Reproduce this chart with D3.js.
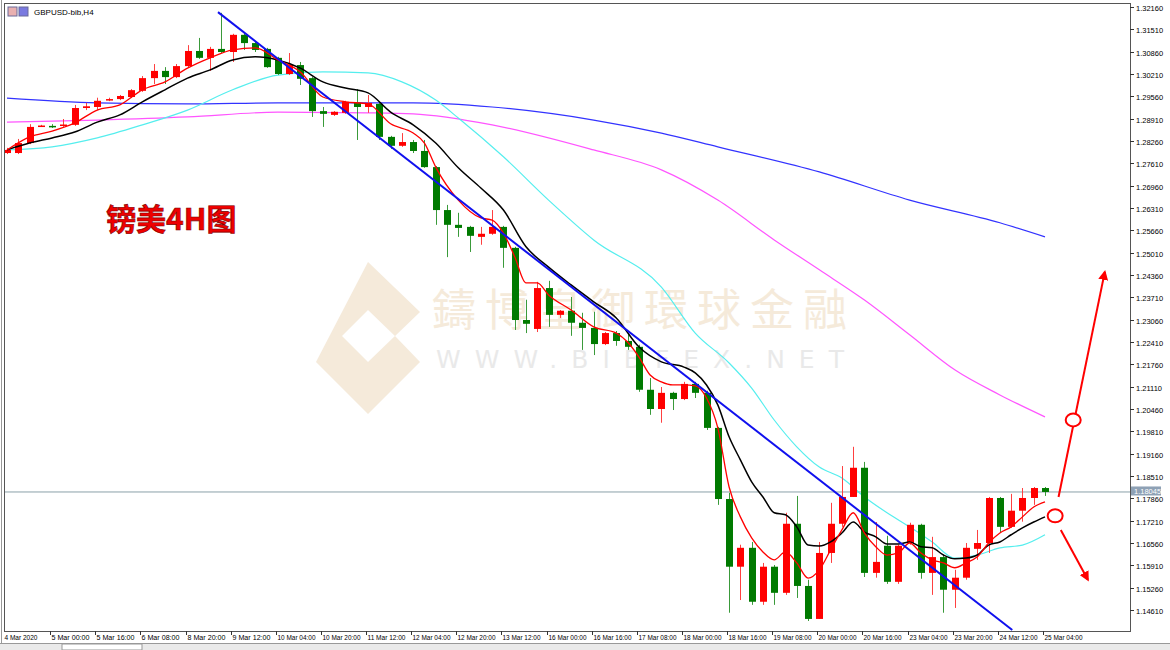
<!DOCTYPE html>
<html><head><meta charset="utf-8">
<script src="https://cdn.jsdelivr.net/npm/d3@7"></script>
<style>body{margin:0;background:#fff}svg{display:block}</style>
</head><body>
<svg id="c" width="1170" height="650"></svg>
<script>
// ---------- data ----------
const opens  = [1.2791,1.2791,1.2820,1.2868,1.2870,1.2871,1.2873,1.2922,1.2925,1.2945,1.2948,1.2954,1.2972,1.3009,1.3030,1.3012,1.3044,1.3088,1.3068,1.3094,1.3085,1.3135,1.3111,1.3094,1.3068,1.3021,1.3047,1.3009,1.2913,1.2902,1.2908,1.2937,1.2925,1.2934,1.2838,1.2812,1.2823,1.2797,1.2750,1.2625,1.2582,1.2576,1.2547,1.2556,1.2576,1.2515,1.2305,1.2279,1.2398,1.2320,1.2332,1.2297,1.2282,1.2235,1.2267,1.2244,1.2227,1.2102,1.2046,1.2093,1.2075,1.2119,1.2093,1.1991,1.1784,1.1587,1.1642,1.1485,1.1587,1.1511,1.1712,1.1531,1.1435,1.1627,1.1712,1.1790,1.1875,1.1569,1.1648,1.1543,1.1656,1.1709,1.1569,1.1615,1.1520,1.1555,1.1639,1.1656,1.1787,1.1703,1.1750,1.1787,1.1816];
const highs  = [1.2806,1.2832,1.2875,1.2873,1.2875,1.2890,1.2931,1.2937,1.2952,1.2952,1.2960,1.2977,1.3015,1.3050,1.3041,1.3050,1.3105,1.3126,1.3100,1.3199,1.3138,1.3143,1.3117,1.3097,1.3071,1.3082,1.3056,1.3012,1.2925,1.2913,1.2943,1.2977,1.2960,1.2937,1.2841,1.2849,1.2829,1.2829,1.2753,1.2640,1.2617,1.2579,1.2576,1.2625,1.2579,1.2518,1.2364,1.2416,1.2419,1.2334,1.2372,1.2326,1.2329,1.2270,1.2273,1.2264,1.2233,1.2136,1.2110,1.2096,1.2125,1.2125,1.2099,1.1994,1.1802,1.1651,1.1659,1.1598,1.1592,1.1744,1.1793,1.1549,1.1659,1.1773,1.1880,1.1936,1.1892,1.1717,1.1677,1.1651,1.1715,1.1712,1.1674,1.1621,1.1578,1.1656,1.1694,1.1790,1.1790,1.1799,1.1816,1.1819,1.1819];
const lows   = [1.2788,1.2788,1.2817,1.2867,1.2864,1.2867,1.2870,1.2916,1.2916,1.2942,1.2945,1.2951,1.2969,1.2992,1.2992,1.3009,1.3041,1.3065,1.3030,1.3082,1.3056,1.3091,1.3085,1.3039,1.3018,1.3018,1.2989,1.2896,1.2867,1.2899,1.2905,1.2829,1.2908,1.2829,1.2803,1.2809,1.2791,1.2748,1.2582,1.2488,1.2547,1.2503,1.2524,1.2553,1.2457,1.2276,1.2267,1.2270,1.2285,1.2311,1.2259,1.2218,1.2203,1.2232,1.2230,1.2218,1.2096,1.2029,1.2006,1.2043,1.2072,1.2078,1.1985,1.1767,1.1453,1.1490,1.1476,1.1476,1.1476,1.1505,1.1496,1.1429,1.1435,1.1598,1.1703,1.1790,1.1557,1.1555,1.1537,1.1537,1.1651,1.1552,1.1505,1.1453,1.1467,1.1549,1.1607,1.1627,1.1688,1.1700,1.1718,1.1767,1.1793];
const closes = [1.2800,1.2820,1.2867,1.2871,1.2867,1.2874,1.2922,1.2927,1.2943,1.2948,1.2957,1.2974,1.3009,1.3030,1.3012,1.3044,1.3088,1.3068,1.3094,1.3085,1.3135,1.3111,1.3091,1.3041,1.3021,1.3047,1.3007,1.2913,1.2905,1.2911,1.2940,1.2925,1.2937,1.2838,1.2812,1.2823,1.2797,1.2750,1.2625,1.2582,1.2573,1.2550,1.2556,1.2576,1.2515,1.2305,1.2294,1.2398,1.2320,1.2332,1.2297,1.2282,1.2235,1.2267,1.2244,1.2227,1.2102,1.2046,1.2093,1.2075,1.2119,1.2093,1.1991,1.1784,1.1587,1.1642,1.1485,1.1587,1.1511,1.1712,1.1531,1.1435,1.1627,1.1712,1.1790,1.1875,1.1569,1.1601,1.1543,1.1648,1.1709,1.1569,1.1615,1.1520,1.1555,1.1642,1.1656,1.1787,1.1703,1.1750,1.1787,1.1816,1.18045];

const maRedIdx = [0,2,4,6,8,10,12,14,16,18,20,22,24,26,28,30,32,34,36,37,38,40,42,43,44,45,46,47,48,50,52,54,55,56,57,58,59,60,61,62,63,64,65,66,67,68,69,70,71,72,73,74,75,76,77,78,79,80,81,82,83,84,85,86,87,88,89,90,91,92];
const maRed    = [1.2800,1.2838,1.2855,1.2879,1.2916,1.2931,1.2975,1.2998,1.3038,1.3068,1.3091,1.3097,1.3062,1.3027,1.2954,1.2940,1.2934,1.2876,1.2849,1.2820,1.2750,1.2654,1.2602,1.2596,1.2558,1.2489,1.2413,1.2413,1.2378,1.2334,1.2285,1.2267,1.2241,1.2198,1.2145,1.2125,1.2116,1.2116,1.2113,1.2078,1.1991,1.1819,1.1732,1.1671,1.1630,1.1607,1.1630,1.1598,1.1554,1.1578,1.1636,1.1694,1.1744,1.1685,1.1645,1.1621,1.1627,1.1656,1.1627,1.1607,1.1598,1.1584,1.1598,1.1616,1.1656,1.1685,1.1703,1.1732,1.1761,1.1776];
const maBlackIdx = [0,2,4,6,8,10,12,14,16,18,20,22,24,26,28,30,32,34,36,38,40,42,44,46,48,50,52,54,56,58,60,61,62,63,64,65,66,67,68,69,70,71,72,73,74,75,76,77,78,79,80,81,82,83,84,85,86,87,88,89,90,91,92];
const maBlack    = [1.2800,1.2820,1.2835,1.2852,1.2881,1.2902,1.2940,1.2975,1.3009,1.3033,1.3062,1.3071,1.3062,1.3038,1.2998,1.2980,1.2966,1.2910,1.2873,1.2820,1.2748,1.2689,1.2625,1.2518,1.2459,1.2407,1.2358,1.2311,1.2227,1.2183,1.2168,1.2151,1.2116,1.2058,1.1965,1.1898,1.1834,1.1790,1.1744,1.1738,1.1703,1.1650,1.1647,1.1659,1.1685,1.1717,1.1688,1.1674,1.1653,1.1653,1.1659,1.1645,1.1642,1.1621,1.1610,1.1612,1.1621,1.1650,1.1659,1.1680,1.1700,1.1717,1.1732];
const maCyanIdx = [0,4,8,12,16,20,24,28,32,35,38,40,44,48,52,58,61,64,66,68,70,72,74,76,78,80,82,84,86,88,90,92];
const maCyan    = [1.2800,1.2809,1.2835,1.2873,1.2916,1.2975,1.3018,1.3027,1.3024,1.2998,1.2945,1.2893,1.2780,1.2654,1.2538,1.2401,1.2267,1.2180,1.2107,1.2014,1.1936,1.1877,1.1845,1.1790,1.1744,1.1703,1.1659,1.1612,1.1621,1.1642,1.1650,1.1680];
const maPinkIdx = [0,8,16,24,32,36,43,52,58,63,68,72,76,80,84,88,92];
const maPink    = [1.2881,1.2887,1.2896,1.2910,1.2908,1.2905,1.2873,1.2800,1.2742,1.2654,1.2538,1.2451,1.2363,1.2262,1.2160,1.2087,1.2023];
const maBlueIdx = [0,8,16,24,32,36,43,52,58,63,72,80,88,92];
const maBlue    = [1.2951,1.2937,1.2934,1.2937,1.2937,1.2937,1.2925,1.2887,1.2849,1.2809,1.2736,1.2654,1.2588,1.2547];
const trendIdx = [18.7, 89.1];
const trendVal = [1.3201, 1.1403];
const upArrowIdx = [93.2, 97.3], upArrowVal = [1.1790, 1.2445];
const dnArrowIdx = [93.4, 95.8], dnArrowVal = [1.1694, 1.1549];
const ringIdx = [94.5, 92.9], ringVal = [1.2014, 1.1735];
const priceTicks = ["1.32160","1.31510","1.30860","1.30210","1.29560","1.28910","1.28260","1.27610","1.26960","1.26310","1.25660","1.25010","1.24360","1.23710","1.23060","1.22410","1.21760","1.21110","1.20460","1.19810","1.19160","1.18510","1.17860","1.17210","1.16560","1.15910","1.15260","1.14610"];
const dateLabels = ["4 Mar 2020","5 Mar 00:00","5 Mar 16:00","6 Mar 08:00","8 Mar 20:00","9 Mar 12:00","10 Mar 04:00","10 Mar 20:00","11 Mar 12:00","12 Mar 04:00","12 Mar 20:00","13 Mar 12:00","16 Mar 00:00","16 Mar 16:00","17 Mar 08:00","18 Mar 00:00","18 Mar 16:00","19 Mar 08:00","20 Mar 00:00","20 Mar 16:00","23 Mar 04:00","23 Mar 20:00","24 Mar 12:00","25 Mar 04:00"];
const lastPrice = 1.18045;

// ---------- drawing ----------
const svg = d3.select("#c");
const L=4, R=1130, T=3, B=631;
const x = d3.scaleLinear().domain([0,92]).range([7,1045]);
const y = d3.scaleLinear().domain([1.1461,1.3216]).range([610,7]);
const font = "'Liberation Sans', Arial, sans-serif";

svg.append("rect").attr("x",0).attr("y",0).attr("width",1170).attr("height",650).attr("fill","#fff");
svg.append("defs").append("clipPath").attr("id","pc").append("rect").attr("x",L).attr("y",T).attr("width",R-L).attr("height",B-T);
const m = svg.append("defs").append("marker").attr("id","ah").attr("viewBox","0 0 10 10").attr("refX",8).attr("refY",5)
  .attr("markerWidth",5).attr("markerHeight",5).attr("orient","auto");
m.append("path").attr("d","M0,0L10,5L0,10Z").attr("fill","#ff0000");

const g = svg.append("g").attr("clip-path","url(#pc)");

// watermark
const wm = g.append("g").attr("opacity",0.5);
wm.append("path").attr("d","M368,262 L420,312 L395,336 L368,310 L342,336 L368,362 L395,336 L420,362 L368,414 L316,362 Z").attr("fill","#ecd6b6");
wm.append("text").attr("x",432).attr("y",326).attr("font-family","'Noto Sans CJK TC'").attr("font-size",44).attr("fill","#ecd6b6").attr("letter-spacing",9).text("鑄博皇御環球金融");
wm.append("text").attr("x",436).attr("y",368).attr("font-family","'DejaVu Sans'").attr("font-size",25).attr("fill","#d5d5d5").attr("letter-spacing",14).text("WWW.BIBFEX.NET");

// last price line
g.append("line").attr("x1",L).attr("x2",R).attr("y1",y(lastPrice)).attr("y2",y(lastPrice)).attr("stroke","#8aa0a8").attr("stroke-width",1);

const line = d3.line().x(d=>x(d[0])).y(d=>y(d[1]));
function drawMA(idx, vals, col, w){
  g.append("path").attr("d",line.curve(d3.curveMonotoneX)(idx.map((v,k)=>[v,vals[k]]))).attr("fill","none").attr("stroke",col).attr("stroke-width",w);
}
drawMA(maBlueIdx, maBlue, "#3333ff",1.2);
drawMA(maPinkIdx, maPink, "#ff55ff",1.2);
drawMA(maCyanIdx, maCyan, "#55eeee",1.2);

// candles
const bw = 7;
opens.forEach((o,i)=>{
  const c = closes[i], up = c>=o, col = up?"#ff0000":"#007a00";
  const cx = Math.round(x(i))+0.5;
  g.append("line").attr("x1",cx).attr("x2",cx).attr("y1",y(highs[i])).attr("y2",y(lows[i])).attr("stroke",up?"#ff4040":"#3a9a3a").attr("stroke-width",1);
  const yt = y(Math.max(o,c)), yb = y(Math.min(o,c));
  g.append("rect").attr("x",cx-bw/2).attr("y",yt).attr("width",bw).attr("height",Math.max(1.5,yb-yt)).attr("fill",col);
});

drawMA(maBlackIdx, maBlack, "#000",1.5);
line.curve(d3.curveLinear);
drawMA(maRedIdx, maRed, "#ff0000",1.3);
line.curve(d3.curveLinear);

// trend line
const sl = d3.line().x(d=>x(d[0])).y(d=>y(d[1]));
g.append("path").attr("d",sl(trendIdx.map((v,k)=>[v,trendVal[k]]))).attr("stroke","#1010ee").attr("stroke-width",2);

// annotations
g.append("path").attr("d",sl(upArrowIdx.map((v,k)=>[v,upArrowVal[k]]))).attr("stroke","#ff0000").attr("stroke-width",2).attr("marker-end","url(#ah)");
g.append("path").attr("d",sl(dnArrowIdx.map((v,k)=>[v,dnArrowVal[k]]))).attr("stroke","#ff0000").attr("stroke-width",2).attr("marker-end","url(#ah)");
ringIdx.forEach((v,k)=>{
  g.append("ellipse").attr("cx",x(v)).attr("cy",y(ringVal[k])).attr("rx",7.5).attr("ry",6.5).attr("fill","#fff").attr("stroke","#ff0000").attr("stroke-width",2);
});

// title text
svg.append("text").attr("x",106).attr("y",230).attr("font-family","'Noto Sans CJK SC'").attr("font-weight","bold").attr("font-size",30)
  .attr("fill","#ee0000").attr("stroke","#7a0000").attr("stroke-width",0.6).text("镑美4H图");

// top-left label
svg.append("rect").attr("x",8).attr("y",7).attr("width",9).attr("height",9).attr("fill","#e9b0b0").attr("stroke","#6a6a9a");
svg.append("rect").attr("x",19).attr("y",7).attr("width",9).attr("height",9).attr("fill","#7a7ae0").attr("stroke","#6a6a9a");
svg.append("text").attr("x",34).attr("y",15).attr("font-family",font).attr("font-size",8).attr("fill","#000").text("GBPUSD-bib,H4");

// frame
svg.append("rect").attr("x",L+0.5).attr("y",T+0.5).attr("width",R-L).attr("height",B-T).attr("fill","none").attr("stroke","#555");

// right axis
const ya = svg.append("g").attr("font-family",font).attr("font-size",7.5);
priceTicks.forEach(t=>{
  const yy = Math.round(y(+t))+0.5;
  ya.append("line").attr("x1",R).attr("x2",R+4).attr("y1",yy).attr("y2",yy).attr("stroke","#333");
  ya.append("text").attr("x",R+6).attr("y",yy+3).text(t);
});
ya.append("rect").attr("x",R+1).attr("y",y(lastPrice)-5.5).attr("width",30).attr("height",9).attr("fill","#8ea1b5");
ya.append("text").attr("x",R+4).attr("y",y(lastPrice)+2.5).attr("fill","#fff").text(lastPrice.toFixed(5));

// bottom axis
const xa = svg.append("g").attr("font-family",font).attr("font-size",6.8);
dateLabels.forEach((t,k)=>{
  const xx = Math.round(x(k*4))+0.5 - 2;
  if(k>0) xa.append("line").attr("x1",xx).attr("x2",xx).attr("y1",B).attr("y2",B+4).attr("stroke","#333");
  xa.append("text").attr("x",k===0?xx-1:xx+1).attr("y",B+9).attr("textLength",t.length>10?38:33).attr("lengthAdjust","spacingAndGlyphs").text(t);
});

// bottom tab bar
svg.append("rect").attr("x",0).attr("y",643).attr("width",1170).attr("height",7).attr("fill","#eaeaea");
svg.append("line").attr("x1",0).attr("x2",1170).attr("y1",643.5).attr("y2",643.5).attr("stroke","#999");
svg.append("rect").attr("x",62).attr("y",644).attr("width",80).attr("height",6).attr("fill","#fff").attr("stroke","#999");
svg.append("line").attr("x1",1.5).attr("x2",1.5).attr("y1",0).attr("y2",643).attr("stroke","#999");
</script>
</body></html>
